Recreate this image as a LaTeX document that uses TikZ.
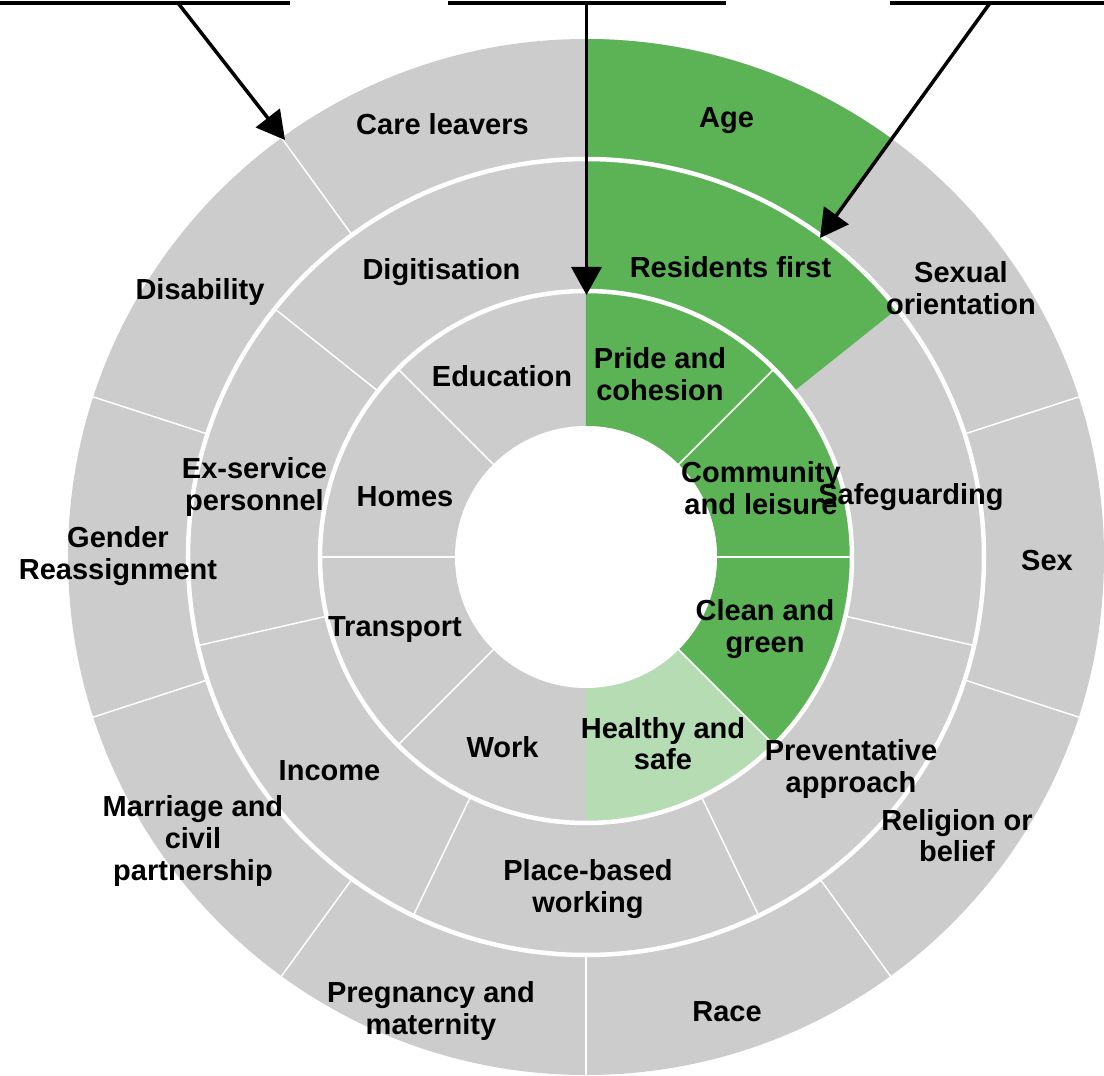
\documentclass[tikz,border=0pt]{standalone}
\usepackage{fontspec}
\setmainfont{Liberation Sans}
\usetikzlibrary{arrows.meta}
\definecolor{segGray}{HTML}{CCCCCC}
\definecolor{segGreen}{HTML}{5BB355}
\definecolor{segLight}{HTML}{B6DCB4}
\begin{document}
\begin{tikzpicture}[x=1pt,y=1pt,
  lbl/.style={font=\bfseries\fontsize{29}{32}\selectfont, align=center, anchor=base, inner sep=0pt},
  divider/.style={draw=white, line width=1.5pt},
  gap/.style={draw=white, line width=4.5pt},
  pointer/.style={draw=black, line width=3.5pt, -{Triangle[length=28pt,width=30pt]}},
  bar/.style={draw=black, line width=4pt}]
\useasboundingbox (-586,-519) rectangle (518,557);
% base disc
\fill[segGray] (0,0) circle[radius=518];
% Age (outer ring)
\fill[segGreen] (90:398) arc[start angle=90,end angle=54,radius=398] -- (54:518) arc[start angle=54,end angle=90,radius=518] -- cycle;
% Residents first (middle ring)
\fill[segGreen] (90:266) arc[start angle=90,end angle=38.57,radius=266] -- (38.57:398) arc[start angle=38.57,end angle=90,radius=398] -- cycle;
% inner ring greens
\fill[segGreen] (90:131) arc[start angle=90,end angle=-45,radius=131] -- (-45:266) arc[start angle=-45,end angle=90,radius=266] -- cycle;
\fill[segLight] (-45:131) arc[start angle=-45,end angle=-90,radius=131] -- (-90:266) arc[start angle=-90,end angle=-45,radius=266] -- cycle;
% hole
\fill[white] (0,0) circle[radius=131];
% dividers
\foreach \a in {18,126,162,198,234,270,306,342} \draw[divider] (\a:398) -- (\a:521);
\foreach \a in {141.43,192.86,244.29,295.71,347.14} \draw[divider] (\a:266) -- (\a:398);
\foreach \a in {45,0,-45,135,180,225} \draw[divider] (\a:129) -- (\a:266);
\draw[gap] (0,0) circle[radius=266];
\draw[gap] (0,0) circle[radius=398];

% outer ring labels (anchor = baseline of last line)
\node[lbl] (careleavers) at (-143.5,422.7) {Care leavers};
\node[lbl] (age) at (140.5,429) {Age};
\node[lbl] (sexor) at (375,242) {Sexual\\orientation};
\node[lbl] (sex) at (461,-14) {Sex};
\node[lbl] (religion) at (371,-305) {Religion or\\belief};
\node[lbl] (race) at (141,-464) {Race};
\node[lbl] (pregnancy) at (-155,-477) {Pregnancy and\\maternity};
\node[lbl] (marriage) at (-393,-323) {Marriage and\\civil\\partnership};
\node[lbl] (gender) at (-468,-23) {Gender\\Reassignment};
\node[lbl] (disability) at (-386,257) {Disability};
% middle ring labels
\node[lbl] (digitisation) at (-144.5,277) {Digitisation};
\node[lbl] (residents) at (144.5,279) {Residents first};
\node[lbl] (safeguarding) at (325,52) {Safeguarding};
\node[lbl] (preventative) at (265,-236) {Preventative\\approach};
\node[lbl] (placebased) at (2,-355) {Place-based\\working};
\node[lbl] (income) at (-256.5,-224) {Income};
\node[lbl] (exservice) at (-331.5,46) {Ex-service\\personnel};
% inner ring labels
\node[lbl] (education) at (-84,170) {Education};
\node[lbl] (pride) at (74,156) {Pride and\\cohesion};
\node[lbl] (community) at (175,42) {Community\\and leisure};
\node[lbl] (clean) at (179,-96) {Clean and\\green};
\node[lbl] (healthy) at (77,-213) {Healthy and\\safe};
\node[lbl] (work) at (-83.5,-201) {Work};
\node[lbl] (transport) at (-191,-80) {Transport};
\node[lbl] (homes) at (-181,50) {Homes};

% top bars and pointers
\coordinate (barAl) at (-586,554); \coordinate (barAr) at (-296,554);
\coordinate (barBl) at (-138,554); \coordinate (barBr) at (140,554);
\coordinate (barCl) at (304,554);  \coordinate (barCr) at (518,554);
\coordinate (srcA) at (-408,554); \coordinate (tipA) at (-301,417);
\coordinate (srcB) at (0.5,554);  \coordinate (tipB) at (0.5,262);
\coordinate (srcC) at (404,554);  \coordinate (tipC) at (234,319);
\draw[pointer] (srcA) -- (tipA);
\draw[pointer] (srcB) -- (tipB);
\draw[pointer] (srcC) -- (tipC);
\draw[bar] (barAl) -- (barAr);
\draw[bar] (barBl) -- (barBr);
\draw[bar] (barCl) -- (barCr);
\end{tikzpicture}
\end{document}
